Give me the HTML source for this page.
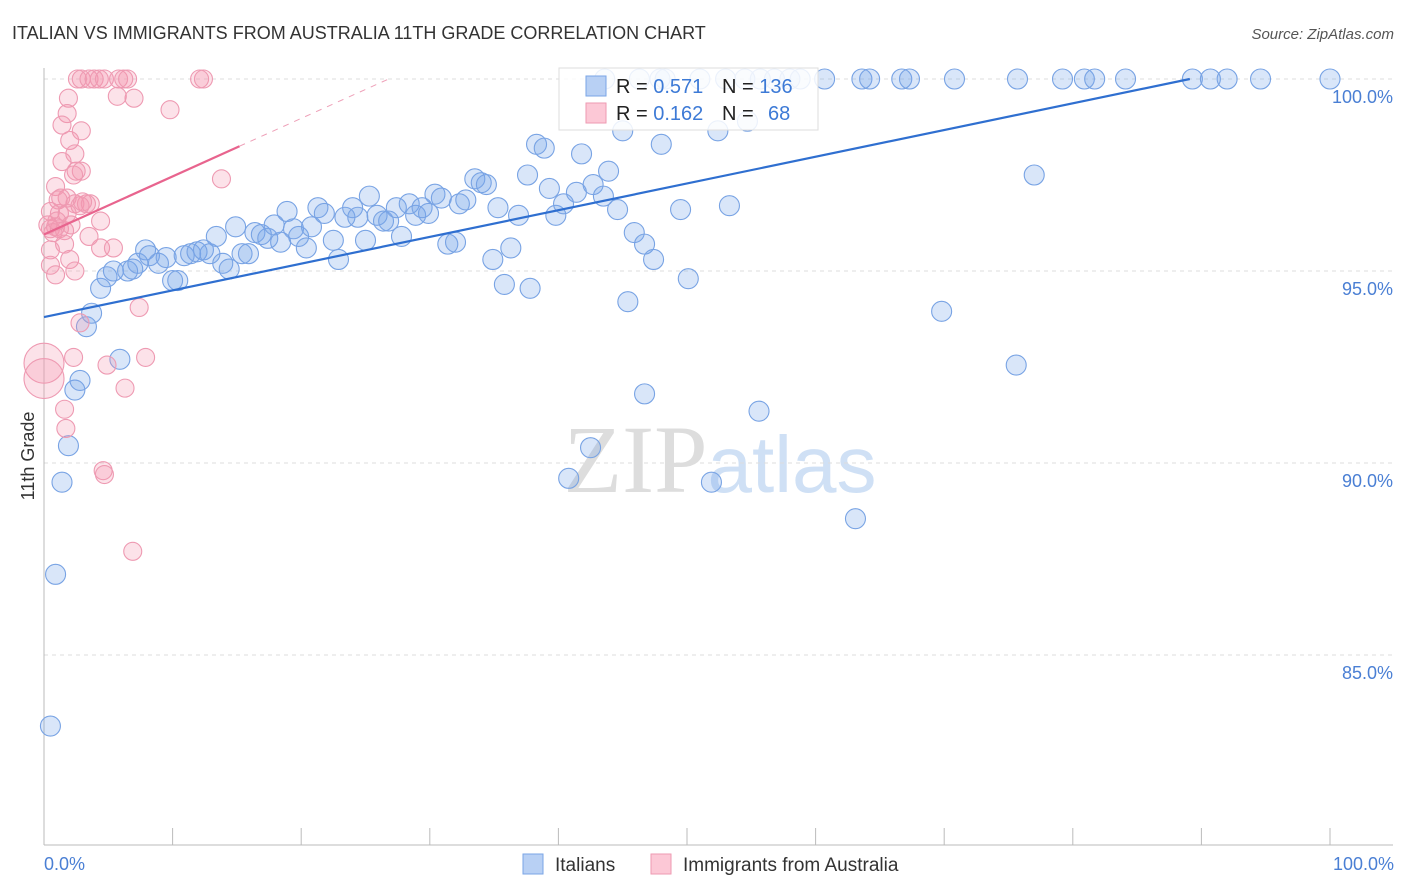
<!DOCTYPE html>
<html><head><meta charset="utf-8"><style>
body{margin:0;background:#fff;font-family:"Liberation Sans",sans-serif}
svg{display:block}
</style></head><body>
<svg id="chart" width="1406" height="892" xmlns="http://www.w3.org/2000/svg">
<text x="12" y="39" font-size="18" fill="#333">ITALIAN VS IMMIGRANTS FROM AUSTRALIA 11TH GRADE CORRELATION CHART</text>
<text x="1394" y="39" font-size="15" fill="#555" font-style="italic" text-anchor="end">Source: ZipAtlas.com</text>
<text x="720" y="492" font-size="96" fill="#ddd" text-anchor="middle" font-family="Liberation Serif,serif">ZIP<tspan fill="#cfe0f5" font-family="Liberation Sans,sans-serif" font-size="80">atlas</tspan></text>
<g id="grid"></g>
<g id="pts"></g>
<g id="lines"></g>
<text transform="translate(34,456) rotate(-90)" font-size="18" fill="#333" text-anchor="middle">11th Grade</text>
<text x="44" y="870" font-size="18" fill="#4a7fd4">0.0%</text>
<text x="1394" y="870" font-size="18" fill="#4a7fd4" text-anchor="end">100.0%</text>
<g>
<rect x="559" y="68" width="259" height="62" fill="#fff" fill-opacity="0.85" stroke="#ddd"/>
<rect x="586" y="76" width="20" height="20" fill="#b8d0f4" stroke="#7aa5e6"/>
<rect x="586" y="103" width="20" height="20" fill="#fcc8d6" stroke="#ee9ab2"/>
<text x="616" y="93" font-size="20" fill="#222">R = <tspan fill="#3d7ad6">0.571</tspan></text>
<text x="722" y="93" font-size="20" fill="#222">N = <tspan fill="#3d7ad6">136</tspan></text>
<text x="616" y="120" font-size="20" fill="#222">R = <tspan fill="#3d7ad6">0.162</tspan></text>
<text x="722" y="120" font-size="20" fill="#222">N = <tspan fill="#3d7ad6" x="768">68</tspan></text>
</g>
<g>
<rect x="523" y="854" width="20" height="20" fill="#b8d0f4" stroke="#7aa5e6"/>
<text x="555" y="871" font-size="19" fill="#333">Italians</text>
<rect x="651" y="854" width="20" height="20" fill="#fcc8d6" stroke="#ee9ab2"/>
<text x="683" y="871" font-size="19" fill="#333">Immigrants from Australia</text>
</g>
</svg>
<script>
const yTicks=[100,95,90,85];
const yTickLabels=["100.0%","95.0%","90.0%","85.0%"];
const xTicks=[0,10,20,30,40,50,60,70,80,90,100];
const blueX=[0.5,0.9,1.4,1.9,2.4,2.8,3.3,3.7,4.4,4.9,5.4,5.9,6.5,6.9,7.3,7.9,8.2,8.9,9.5,10.0,10.4,10.9,11.4,11.9,12.4,12.9,13.4,13.9,14.4,14.9,15.4,15.9,16.4,16.9,17.4,17.9,18.4,18.9,19.4,19.8,20.4,20.8,21.3,21.8,22.5,22.9,23.4,24.0,24.4,25.0,25.3,25.9,26.4,26.8,27.4,27.8,28.4,28.9,29.4,29.9,30.4,30.9,31.4,32.0,32.3,32.8,33.5,34.0,34.4,34.9,35.3,35.8,36.3,36.9,37.6,37.8,38.3,38.9,39.3,39.8,40.4,40.8,41.4,41.8,42.5,42.7,43.5,43.9,44.6,45.0,45.4,45.9,46.7,46.7,47.4,48.0,49.5,50.1,51.9,52.4,53.3,54.7,55.6,63.1,69.8,75.6,77.0,
43.6,46.3,47.9,48.3,51.0,53.0,54.5,55.7,56.8,58.0,58.8,60.7,63.6,64.2,66.7,67.3,70.8,75.7,79.2,80.9,81.7,84.1,89.3,90.7,92.0,94.6,100];
const blueY=[83.15,87.1,89.5,90.45,91.9,92.15,93.55,93.9,94.55,94.85,95.0,92.7,95.0,95.05,95.2,95.55,95.4,95.2,95.35,94.75,94.75,95.4,95.45,95.5,95.55,95.45,95.9,95.2,95.05,96.15,95.45,95.45,96.0,95.95,95.85,96.2,95.75,96.55,96.1,95.9,95.6,96.15,96.65,96.5,95.8,95.3,96.4,96.65,96.4,95.8,96.95,96.45,96.3,96.3,96.65,95.9,96.75,96.45,96.65,96.5,97.0,96.9,95.7,95.75,96.75,96.85,97.4,97.3,97.25,95.3,96.65,94.65,95.6,96.45,97.5,94.55,98.3,98.2,97.15,96.45,96.75,89.6,97.05,98.05,90.4,97.25,96.95,97.6,96.6,98.65,94.2,96.0,91.8,95.7,95.3,98.3,96.6,94.8,89.5,98.65,96.7,98.9,91.35,88.55,93.95,92.55,97.5,
100,100,100,100,100,100,100,100,100,100,100,100,100,100,100,100,100,100,100,100,100,100,100,100,100,100,100];
const pinkX=[2.6,2.9,3.5,3.9,4.3,4.7,5.8,6.2,6.5,12.1,12.4,5.7,1.9,7.0,9.8,1.8,1.4,2.9,2.0,2.4,1.4,2.9,2.5,2.3,13.8,0.9,1.8,1.1,2.4,3.3,3.6,2.8,0.5,1.2,1.8,4.4,0.5,0.9,1.2,1.6,3.5,1.6,4.4,5.4,0.5,2.0,0.5,2.4,0.9,7.4,2.8,0,0,2.3,7.9,4.9,6.3,1.6,1.7,4.6,4.7,6.9,0.3,0.7,1.0,1.3,2.1,3.0];
const pinkY=[100,100,100,100,100,100,100,100,100,100,100,99.55,99.5,99.5,99.2,99.1,98.8,98.65,98.4,98.05,97.85,97.6,97.6,97.5,97.4,97.2,96.9,96.85,96.75,96.75,96.75,96.7,96.55,96.5,96.5,96.3,96.1,96.15,96.1,96.05,95.9,95.7,95.6,95.6,95.55,95.3,95.15,95.0,94.9,94.05,93.65,92.6,92.2,92.75,92.75,92.55,91.95,91.4,90.9,89.8,89.7,87.7,96.2,96.0,96.3,96.9,96.2,96.8];
const blueLine=[0,93.8,89.1,100];
const pinkLine=[0,95.95,15.2,98.25,26.8,100];
const NS="http://www.w3.org/2000/svg";
const xs=v=>44+v*12.86, ys=v=>79+(100-v)*38.4;
function mk(t,a,p){const e=document.createElementNS(NS,t);for(const k in a)e.setAttribute(k,a[k]);document.getElementById(p).appendChild(e);return e;}
yTicks.forEach((t,i)=>{
 const g=mk('line',{x1:44,x2:1393,y1:ys(t),y2:ys(t),stroke:'#ddd','stroke-dasharray':'4,4'},'grid');
 
 
 const l=mk('text',{x:1393,y:ys(t)+24,'font-size':18,fill:'#4a7fd4','text-anchor':'end'},'grid');
 l.textContent=yTickLabels[i];
 
 
});
const ax=mk('line',{x1:44,x2:44,y1:68,y2:845,stroke:'#bbb'},'grid');


const bx=mk('line',{x1:44,x2:1393,y1:845,y2:845,stroke:'#bbb'},'grid');


xTicks.forEach(t=>{
 const k=mk('line',{x1:xs(t),x2:xs(t),y1:828,y2:845,stroke:'#bbb'},'grid');
 
 
});
blueX.forEach((x,i)=>{
 const c=mk('circle',{cx:xs(x),cy:ys(blueY[i]),r:10,fill:'rgba(120,165,235,0.28)',stroke:'#78a3e4','stroke-width':1.1},'pts');
 
 
});
pinkX.forEach((x,i)=>{
 const r=(x===0)?20:9;
 const c=mk('circle',{cx:xs(x),cy:ys(pinkY[i]),r:r,fill:'rgba(245,150,175,0.28)',stroke:'#ee9ab2','stroke-width':1.1},'pts');
 
 
});
const bl=mk('line',{x1:xs(blueLine[0]),y1:ys(blueLine[1]),x2:xs(blueLine[2]),y2:ys(blueLine[3]),stroke:'#2f6fd0','stroke-width':2.2},'lines');


const pl=mk('line',{x1:xs(pinkLine[0]),y1:ys(pinkLine[1]),x2:xs(pinkLine[2]),y2:ys(pinkLine[3]),stroke:'#e8648e','stroke-width':2.2},'lines');


const pd=mk('line',{x1:xs(pinkLine[2]),y1:ys(pinkLine[3]),x2:xs(pinkLine[4]),y2:ys(pinkLine[5]),stroke:'#eea0b8','stroke-width':1,'stroke-dasharray':'6,6'},'lines');


</script>
</body></html>
